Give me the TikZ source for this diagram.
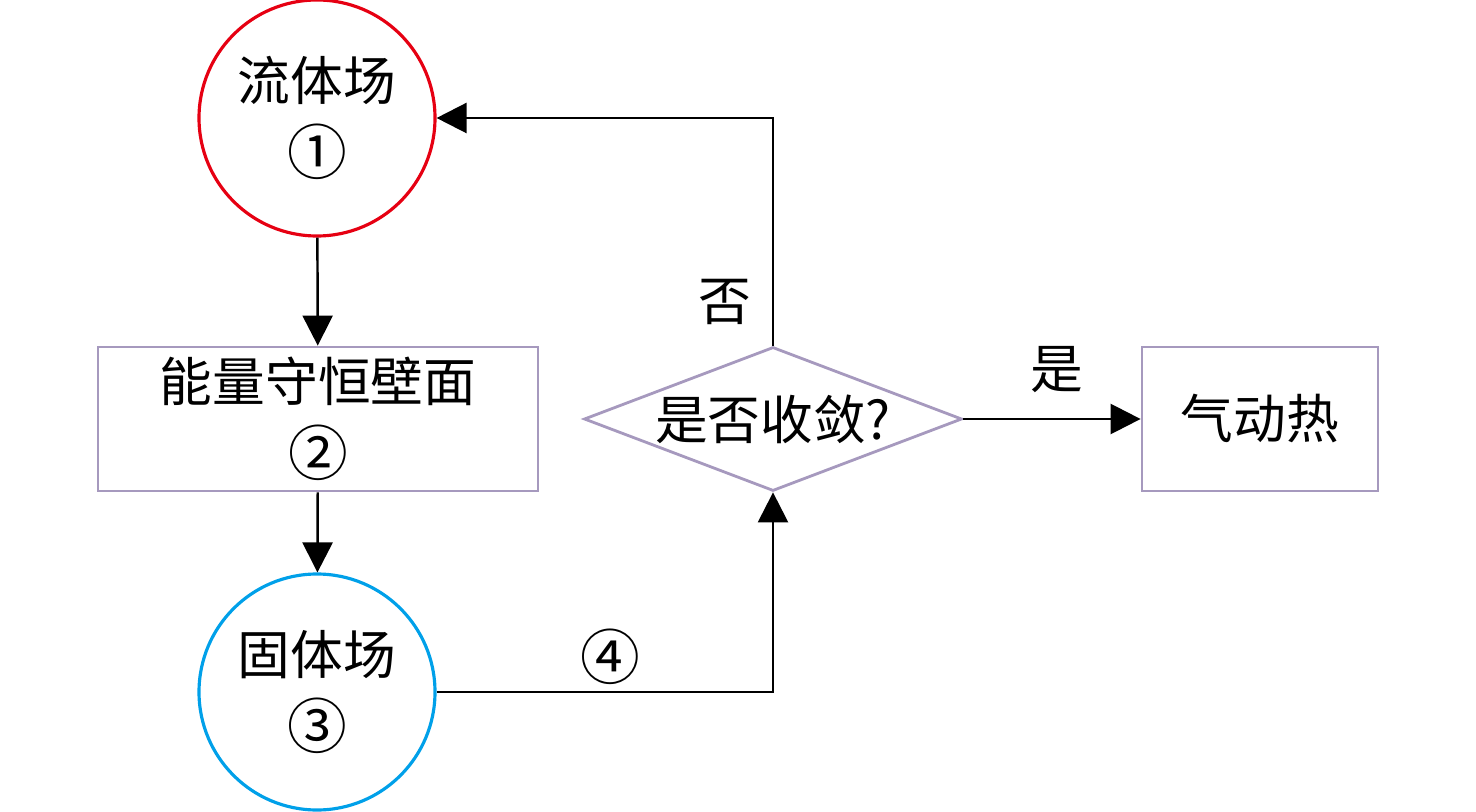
\documentclass[tikz,border=0pt]{standalone}
\usepackage{fontspec}
\setmainfont{Noto Sans CJK SC}
\usetikzlibrary{shapes.geometric, arrows.meta}

\definecolor{fieldred}{RGB}{230,0,18}
\definecolor{fieldblue}{RGB}{0,160,233}
\definecolor{boxgray}{RGB}{166,153,190}

\newcommand{\stepno}[1]{{\fontsize{17}{20.5}\selectfont #1}}

\tikzset{
	field/.style={circle, line width=0.9pt, minimum size=2.36cm, inner sep=0pt, align=center},
	wall/.style={rectangle, draw=boxgray, line width=0.8pt, minimum width=4.40cm, minimum height=1.44cm, inner sep=0pt, align=center},
	decision/.style={diamond, draw=boxgray, line width=0.8pt, minimum width=3.78cm, minimum height=1.44cm, inner sep=0pt},
	flow/.style={line width=0.7pt, -{Triangle[length=3mm, width=3mm]}},
	txt/.style={font=\fontsize{15}{21}\selectfont}
}

\begin{document}
\begin{tikzpicture}
	
% Canvas
\useasboundingbox (0,0) rectangle (14.76,8.11);

% Fields and boxes
\node[field, draw=fieldred, txt] (fluid) at (3.17,6.93) {流体场\\\stepno{①}};
\node[wall, txt] (wall) at (3.18,3.92) {能量守恒壁面\\\stepno{②}};
\node[field, draw=fieldblue, txt] (solid) at (3.17,1.19) {固体场\\\stepno{③}};
\node[decision, label={[txt]center:是否收敛?}] (conv) at (7.73,3.92) {};
\node[wall, minimum width=2.36cm, txt] (heat) at (12.60,3.92) {气动热};

% Connectors
\draw[flow] (fluid) -- (wall);
\draw[flow] (wall) -- (solid);
\draw[flow] (solid.east) -| (conv.south);
\draw[flow] (conv.north) |- (fluid.east);
\draw[flow] (conv.east) -- (heat.west);

% Labels on connectors
\node[txt] (no) at (7.25,5.09) {否};
\node[txt] (yes) at (10.57,4.41) {是};
\node[txt] (iter) at (6.10,1.54) {\stepno{④}};
		
\end{tikzpicture}
\end{document}
